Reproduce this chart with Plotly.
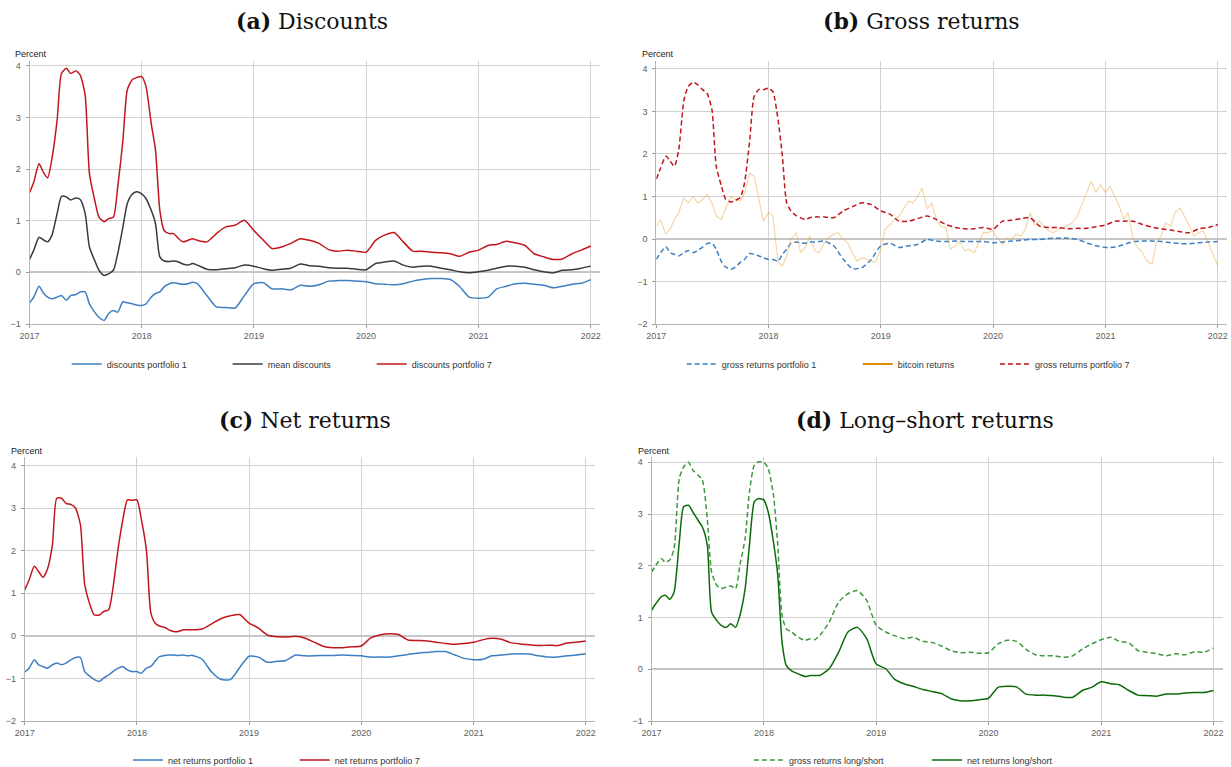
import pandas as pd
import plotly.graph_objects as go

W, H = 1231, 767

# ---------------- dates ----------------
semi = [d.strftime('%Y-%m-%d') for d in pd.date_range('2017-01-01', '2018-06-30', freq='SMS')]
monthly = [d.strftime('%Y-%m-%d') for d in pd.date_range('2018-07-01', '2022-01-01', freq='MS')]
dates = semi + monthly
dates_btc = [d.strftime('%Y-%m-%d') for d in pd.date_range('2017-01-01', '2022-01-01', freq='SMS')]

# ---------------- (a) Discounts ----------------
disc_p1 = [-0.59, -0.48, -0.27, -0.40, -0.48, -0.51, -0.48, -0.45, -0.54, -0.45, -0.43, -0.38,
           -0.38, -0.61, -0.77, -0.87, -0.93, -0.80, -0.74, -0.77, -0.57, -0.59, -0.61, -0.63,
           -0.64, -0.61, -0.48, -0.41, -0.38, -0.28, -0.22, -0.20, -0.22, -0.23, -0.22, -0.19,
           -0.22, -0.45, -0.67, -0.68, -0.69, -0.45, -0.22, -0.20, -0.32, -0.32, -0.34, -0.25,
           -0.27, -0.24, -0.17, -0.16, -0.16, -0.17, -0.18, -0.22, -0.23, -0.24, -0.22, -0.17,
           -0.14, -0.12, -0.12, -0.14, -0.28, -0.48, -0.50, -0.48, -0.32, -0.27, -0.22, -0.21,
           -0.23, -0.25, -0.30, -0.27, -0.23, -0.21, -0.14]
disc_mean = [0.25, 0.43, 0.68, 0.63, 0.59, 0.72, 1.14, 1.47, 1.46, 1.40, 1.44, 1.41,
             1.14, 0.49, 0.23, 0.04, -0.06, -0.03, 0.04, 0.36, 0.88, 1.33, 1.51, 1.56,
             1.52, 1.43, 1.20, 0.94, 0.30, 0.22, 0.21, 0.22, 0.20, 0.16, 0.14, 0.17,
             0.14, 0.06, 0.05, 0.07, 0.09, 0.14, 0.12, 0.07, 0.04, 0.06, 0.08, 0.16,
             0.13, 0.12, 0.09, 0.08, 0.08, 0.06, 0.05, 0.17, 0.20, 0.22, 0.14, 0.10,
             0.12, 0.12, 0.08, 0.05, 0.01, -0.01, 0.01, 0.04, 0.08, 0.12, 0.12, 0.10,
             0.05, 0.01, -0.01, 0.04, 0.05, 0.08, 0.12]
disc_p7 = [1.54, 1.75, 2.10, 1.94, 1.83, 2.20, 2.95, 3.85, 3.95, 3.85, 3.90, 3.82,
           3.43, 1.91, 1.40, 1.07, 0.98, 1.04, 1.07, 1.65, 2.56, 3.53, 3.73, 3.77,
           3.79, 3.60, 2.88, 2.36, 1.20, 0.81, 0.75, 0.75, 0.65, 0.59, 0.62, 0.65,
           0.62, 0.59, 0.75, 0.88, 0.91, 1.01, 0.81, 0.62, 0.46, 0.49, 0.56, 0.65,
           0.62, 0.56, 0.44, 0.41, 0.43, 0.41, 0.39, 0.62, 0.72, 0.77, 0.59, 0.41,
           0.41, 0.39, 0.38, 0.36, 0.31, 0.39, 0.43, 0.52, 0.54, 0.60, 0.57, 0.52,
           0.36, 0.30, 0.25, 0.26, 0.36, 0.43, 0.51]

# ---------------- (b) Gross returns ----------------
gross_p1 = [-0.48, -0.32, -0.18, -0.32, -0.36, -0.40, -0.32, -0.27, -0.32, -0.27, -0.19, -0.11,
            -0.10, -0.24, -0.54, -0.66, -0.71, -0.66, -0.55, -0.48, -0.34, -0.36, -0.40, -0.44,
            -0.48, -0.48, -0.52, -0.36, -0.24, -0.10, -0.07, -0.09, -0.10, -0.07, -0.07, -0.06,
            -0.05, -0.16, -0.48, -0.70, -0.67, -0.48, -0.16, -0.10, -0.20, -0.16, -0.13, -0.01,
            -0.05, -0.06, -0.05, -0.06, -0.06, -0.06, -0.09, -0.07, -0.05, -0.03, -0.01, -0.01,
            0.01, 0.02, 0.02, -0.01, -0.09, -0.16, -0.20, -0.19, -0.13, -0.06, -0.05, -0.05,
            -0.06, -0.09, -0.11, -0.11, -0.09, -0.07, -0.06]
gross_p7 = [1.41, 1.67, 1.95, 1.83, 1.71, 2.10, 3.27, 3.59, 3.69, 3.63, 3.51, 3.43,
            3.04, 1.71, 1.24, 0.93, 0.87, 0.91, 0.97, 1.32, 2.34, 3.35, 3.52, 3.51,
            3.55, 3.47, 2.80, 1.95, 0.85, 0.66, 0.55, 0.50, 0.46, 0.50, 0.52, 0.52,
            0.52, 0.50, 0.66, 0.76, 0.85, 0.81, 0.66, 0.58, 0.42, 0.42, 0.48, 0.54,
            0.46, 0.34, 0.27, 0.24, 0.24, 0.27, 0.23, 0.42, 0.44, 0.48, 0.50, 0.30,
            0.27, 0.27, 0.24, 0.25, 0.25, 0.29, 0.33, 0.42, 0.42, 0.42, 0.34, 0.28,
            0.24, 0.21, 0.17, 0.15, 0.24, 0.27, 0.34]
btc_returns = [0.30, 0.46, 0.11, 0.23, 0.46, 0.62, 0.97, 0.85, 1.00, 0.85, 0.93, 1.05,
               0.85, 0.54, 0.46, 0.73, 1.00, 0.93, 0.89, 1.09, 1.55, 1.48, 0.93, 0.42,
               0.62, 0.54, -0.55, -0.63, -0.40, -0.01, 0.15, -0.32, -0.20, 0.07, -0.28, -0.32,
               -0.09, 0.03, 0.11, 0.15, -0.01, -0.09, -0.32, -0.52, -0.44, -0.48, -0.52, -0.55,
               -0.24, 0.23, 0.34, 0.46, 0.54, 0.70, 0.89, 0.85, 1.00, 1.20, 0.70, 0.85,
               0.46, 0.30, 0.27, -0.24, -0.16, -0.05, -0.28, -0.24, -0.32, -0.09, 0.15, 0.15,
               0.19, 0.03, -0.13, 0.03, -0.01, 0.11, 0.07, 0.23, 0.62, 0.34, 0.42, 0.30,
               0.19, 0.15, 0.23, 0.27, 0.34, 0.38, 0.54, 0.77, 1.09, 1.36, 1.09, 1.28,
               1.09, 1.24, 1.00, 0.77, 0.46, 0.62, -0.01, -0.20, -0.32, -0.52, -0.59, -0.09,
               0.07, 0.38, 0.30, 0.62, 0.73, 0.54, 0.30, 0.07, 0.15, 0.19, -0.09, -0.36,
               -0.63]

# ---------------- (c) Net returns ----------------
net_p1 = [-0.85, -0.76, -0.56, -0.68, -0.72, -0.76, -0.68, -0.64, -0.68, -0.64, -0.56, -0.51,
          -0.51, -0.84, -0.95, -1.03, -1.07, -0.99, -0.92, -0.84, -0.76, -0.72, -0.80, -0.84,
          -0.84, -0.88, -0.76, -0.72, -0.60, -0.49, -0.46, -0.45, -0.45, -0.46, -0.45, -0.47,
          -0.46, -0.55, -0.85, -1.02, -1.03, -0.75, -0.48, -0.50, -0.62, -0.60, -0.58, -0.45,
          -0.47, -0.47, -0.46, -0.46, -0.45, -0.46, -0.47, -0.50, -0.50, -0.50, -0.47, -0.44,
          -0.41, -0.39, -0.37, -0.37, -0.45, -0.53, -0.56, -0.55, -0.47, -0.45, -0.43, -0.42,
          -0.43, -0.47, -0.50, -0.50, -0.47, -0.45, -0.42]
net_p7 = [1.08, 1.31, 1.63, 1.51, 1.37, 1.55, 2.14, 3.23, 3.23, 3.11, 3.08, 3.00,
          2.61, 1.20, 0.73, 0.49, 0.49, 0.57, 0.61, 1.12, 2.06, 2.68, 3.19, 3.18,
          3.19, 2.75, 2.00, 0.55, 0.30, 0.23, 0.20, 0.14, 0.10, 0.10, 0.14, 0.14,
          0.14, 0.16, 0.28, 0.40, 0.47, 0.50, 0.30, 0.18, 0.02, -0.02, -0.03, -0.01,
          -0.05, -0.15, -0.25, -0.28, -0.28, -0.26, -0.24, -0.05, 0.02, 0.05, 0.03, -0.10,
          -0.11, -0.12, -0.15, -0.18, -0.20, -0.18, -0.15, -0.09, -0.06, -0.08, -0.16, -0.19,
          -0.21, -0.23, -0.22, -0.23, -0.17, -0.15, -0.12]

# ---------------- (d) Long-short returns ----------------
gross_ls = [1.88, 2.01, 2.14, 2.07, 2.11, 2.33, 3.69, 3.91, 4.00, 3.85, 3.75, 3.66,
            2.91, 1.88, 1.62, 1.56, 1.59, 1.61, 1.56, 2.01, 2.53, 3.43, 3.95, 4.01,
            4.00, 3.88, 3.37, 2.40, 1.04, 0.78, 0.72, 0.65, 0.59, 0.56, 0.59, 0.57,
            0.65, 0.91, 1.30, 1.46, 1.52, 1.33, 0.85, 0.72, 0.65, 0.59, 0.62, 0.54,
            0.52, 0.45, 0.36, 0.32, 0.33, 0.31, 0.32, 0.49, 0.56, 0.54, 0.39, 0.28,
            0.26, 0.26, 0.23, 0.26, 0.39, 0.49, 0.57, 0.62, 0.54, 0.51, 0.36, 0.33,
            0.30, 0.26, 0.30, 0.28, 0.34, 0.33, 0.41]
net_ls = [1.14, 1.27, 1.40, 1.43, 1.35, 1.49, 2.46, 3.14, 3.17, 3.04, 2.88, 2.75,
          2.40, 1.10, 0.94, 0.85, 0.81, 0.88, 0.81, 1.04, 1.56, 2.40, 3.24, 3.30,
          3.27, 3.04, 2.46, 1.82, 0.52, 0.07, -0.03, -0.07, -0.11, -0.14, -0.12, -0.12,
          -0.12, 0.01, 0.33, 0.72, 0.81, 0.59, 0.10, 0.01, -0.19, -0.28, -0.33, -0.39,
          -0.43, -0.47, -0.57, -0.61, -0.61, -0.59, -0.56, -0.35, -0.33, -0.34, -0.48, -0.50,
          -0.50, -0.51, -0.54, -0.54, -0.41, -0.35, -0.24, -0.28, -0.30, -0.41, -0.50, -0.51,
          -0.52, -0.48, -0.48, -0.46, -0.45, -0.45, -0.41]

year_ticks = ['2017', '2018', '2019', '2020', '2021', '2022']
titles = ['<b>(a)</b> Discounts', '<b>(b)</b> Gross returns',
          '<b>(c)</b> Net returns', '<b>(d)</b> Long\u2013short returns']

BLUE = '#3d7fc1'
RED = '#c2161d'
DARK = '#3a3a3a'
ORANGE = '#e08a00'
BTC_LIGHT = 'rgba(232,160,50,0.45)'
GREEN = '#0b6b0b'
GREEN_D = '#3f973f'

SANS = 'Liberation Sans, Arial, sans-serif'
SERIF = 'DejaVu Serif, serif'


def px(x):
    return x / W


def py(y):
    return 1 - y / H


fig = go.Figure()


def add(x, y, name, color, xa, ya, leg, dash='solid', width=1.5, showlegend=True, shape='spline'):
    fig.add_trace(go.Scatter(x=x, y=y, mode='lines', name=name,
                             line=dict(color=color, width=width, dash=dash, shape=shape,
                                       smoothing=0.6 if shape == 'spline' else None),
                             xaxis=xa, yaxis=ya, legend=leg, showlegend=showlegend,
                             hoverinfo='skip'))


# (a)
add(dates, disc_p1, 'discounts portfolio 1', BLUE, 'x', 'y', 'legend')
add(dates, disc_mean, 'mean discounts', DARK, 'x', 'y', 'legend2')
add(dates, disc_p7, 'discounts portfolio 7', RED, 'x', 'y', 'legend3')
# (b)
add(dates, gross_p1, 'gross returns portfolio 1', BLUE, 'x2', 'y2', 'legend4', dash='5px,3px')
add(dates_btc, btc_returns, 'bitcoin returns', BTC_LIGHT, 'x2', 'y2', 'legend5', width=1.1,
    showlegend=False, shape='linear')
fig.add_trace(go.Scatter(x=[None], y=[None], mode='lines', name='bitcoin returns',
                         line=dict(color=ORANGE, width=1.8), xaxis='x2', yaxis='y2',
                         legend='legend5', hoverinfo='skip'))
add(dates, gross_p7, 'gross returns portfolio 7', RED, 'x2', 'y2', 'legend6', dash='5px,3px')
# (c)
add(dates, net_p1, 'net returns portfolio 1', BLUE, 'x3', 'y3', 'legend7')
add(dates, net_p7, 'net returns portfolio 7', RED, 'x3', 'y3', 'legend8')
# (d)
add(dates, gross_ls, 'gross returns long/short', GREEN_D, 'x4', 'y4', 'legend9', dash='5px,3px')
add(dates, net_ls, 'net returns long/short', GREEN, 'x4', 'y4', 'legend10')

# panel geometry in pixels: (left, right, top, bottom, yrange)
panels = [
    (29.5, 600.0, 60.7, 324.0, [-1, 4.097]),
    (656.3, 1227.0, 60.7, 324.0, [-2, 4.195]),
    (24.8, 595.0, 457.3, 721.0, [-2, 4.19]),
    (651.6, 1222.7, 457.3, 721.0, [-1, 4.097]),
]

layout = dict(width=W, height=H, autosize=False,
              margin=dict(l=0, r=0, t=0, b=0, pad=0, autoexpand=False),
              paper_bgcolor='white', plot_bgcolor='white', showlegend=True)

for i, (l, r, t, b, yr) in enumerate(panels):
    sfx = '' if i == 0 else str(i + 1)
    layout['xaxis' + sfx] = dict(
        type='date', domain=[px(l), px(r)], range=['2017-01-01', '2022-01-31'],
        anchor='y' + sfx, tickvals=[y + '-01-01' for y in year_ticks], ticktext=year_ticks,
        showgrid=True, gridcolor='#d2d2d2', gridwidth=1,
        showline=True, linecolor='#b4b4b4', linewidth=1,
        ticks='outside', ticklen=3, tickcolor='#9a9a9a', automargin=False,
        tickfont=dict(family=SANS, size=9, color='#606060'), zeroline=False, fixedrange=True)
    layout['yaxis' + sfx] = dict(
        domain=[py(b), py(t)], range=yr, anchor='x' + sfx, dtick=1, tick0=0,
        showgrid=True, gridcolor='#d2d2d2', gridwidth=1,
        zeroline=True, zerolinecolor='#c6c6c6', zerolinewidth=2,
        showline=True, linecolor='#b4b4b4', linewidth=1, automargin=False,
        ticks='outside', ticklen=3, tickcolor='#9a9a9a', ticklabelstandoff=3,
        tickfont=dict(family=SANS, size=9, color='#606060'), fixedrange=True)

# legends positions: text start x (px), text centre y (px)
leg_specs = [
    ('legend', 106.7, 364), ('legend2', 267.7, 364), ('legend3', 411.7, 364),
    ('legend4', 721.7, 364), ('legend5', 897.7, 364), ('legend6', 1035.0, 364),
    ('legend7', 168.0, 760), ('legend8', 334.7, 760),
    ('legend9', 789.0, 760), ('legend10', 967.0, 760),
]
for key, tx, ty in leg_specs:
    layout[key] = dict(x=px(tx - 40), y=py(ty), xanchor='left', yanchor='middle',
                       orientation='h', bgcolor='rgba(0,0,0,0)', borderwidth=0,
                       font=dict(family=SANS, size=9, color='#333333'),
                       itemclick=False, itemdoubleclick=False)

annotations = []
title_pos = [(312, 21), (921, 21), (305, 420), (925, 420)]
for txt, (cx, cy) in zip(titles, title_pos):
    annotations.append(dict(text=txt, x=px(cx), y=py(cy), xref='paper', yref='paper',
                            xanchor='center', yanchor='middle', showarrow=False,
                            font=dict(family=SERIF, size=22, color='#111111')))
percent_pos = [(12.7, 54), (640.0, 54), (8.7, 451), (635.7, 451)]
for (lx, ly) in percent_pos:
    annotations.append(dict(text='Percent', x=px(lx), y=py(ly), xref='paper', yref='paper',
                            xanchor='left', yanchor='middle', showarrow=False,
                            font=dict(family=SANS, size=9, color='#222222')))
layout['annotations'] = annotations

fig.update_layout(**layout)
fig.write_html('out.html', config={'displayModeBar': False},
               post_script="document.body.style.margin='0';document.body.style.overflow='hidden';")
